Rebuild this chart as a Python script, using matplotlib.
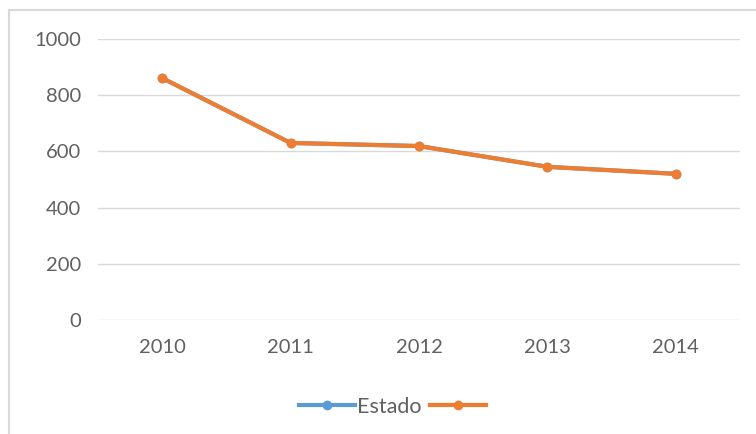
import matplotlib.pyplot as plt
from matplotlib.lines import Line2D

years = ['2010', '2011', '2012', '2013', '2014']
estado = [861, 630, 619, 545, 520]
serie2 = [861, 630, 619, 545, 520]

plt.rcParams['font.family'] = ['Lato', 'DejaVu Sans']
txt = '#606060'

fig = plt.figure(figsize=(7.56, 4.34), dpi=100)
ax = fig.add_axes([0.1296, 0.263, 0.8494, 0.647])

x = list(range(len(years)))
ax.plot(x, estado, color='#5b9bd5', linewidth=3, marker='o', markersize=6, label='Estado')
ax.plot(x, serie2, color='#ed7d31', linewidth=3, marker='o', markersize=6, label=' ')

ax.set_xlim(-0.5, len(years) - 0.5)
ax.set_ylim(0, 1000)
ax.set_yticks(range(0, 1001, 200))
ax.set_xticks(x)
ax.set_xticklabels(years)
ax.grid(axis='y', color='#d9d9d9', linewidth=1)
ax.set_axisbelow(True)
for s in ax.spines.values():
    s.set_visible(False)
ax.tick_params(length=0, labelsize=14.5, colors=txt, pad=12)
ax.tick_params(axis='x', pad=14)

leg = ax.legend(loc='center', bbox_to_anchor=(0.465, -0.31), ncol=2, frameon=False,
                fontsize=15.5, handlelength=2.6, columnspacing=0.4, handletextpad=0.1)
for t in leg.get_texts():
    t.set_color(txt)

# chart border (left and top)
fig.add_artist(Line2D([9 / 756, 9 / 756], [0, 1 - 10 / 434], color='#d9d9d9', linewidth=1.5))
fig.add_artist(Line2D([9 / 756, 1], [1 - 10 / 434, 1 - 10 / 434], color='#d9d9d9', linewidth=1.5))

fig.savefig('out.png', dpi=100)
